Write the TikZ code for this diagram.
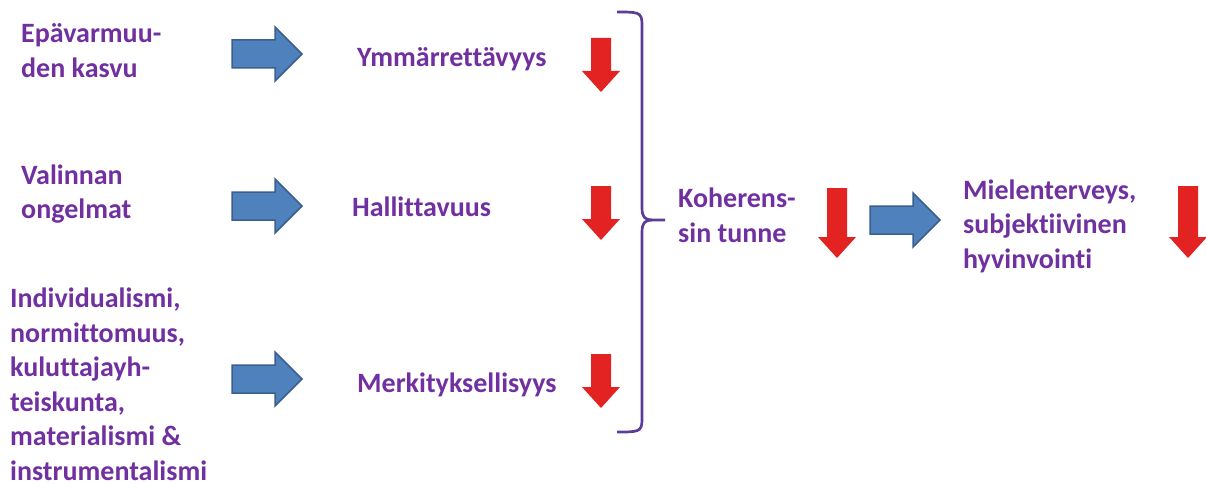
\documentclass[tikz,border=0pt]{standalone}
\usepackage{fontspec}
\setmainfont{Carlito}[Ligatures=NoCommon]
\definecolor{txtpurple}{HTML}{7030A0}
\definecolor{bracecol}{HTML}{5B3C98}
\definecolor{arrblue}{HTML}{4F81BD}
\definecolor{arrblueline}{HTML}{3A5F8E}
\definecolor{arrred}{HTML}{E32222}
\tikzset{
  txt/.style={font=\fontsize{28}{34.5}\selectfont\bfseries, text=txtpurple, align=left, inner sep=0pt, anchor=base west},
  bluearr/.style={fill=arrblue, draw=arrblueline, line width=1.5pt, line join=miter},
  redarr/.style={fill=arrred, draw=none},
  bracestyle/.style={draw=bracecol, line width=2.7pt},
  pics/bluearrow/.style={code={
    \path[bluearr] (0,-14) -- (43,-14) -- (43,-27) -- (70,0) -- (43,27) -- (43,14) -- (0,14) -- cycle;}},
  pics/redarrow/.style={code={
    \path[redarr] (-10,0) -- (10,0) -- (10,#1-21) -- (19,#1-21) -- (0,#1) -- (-19,#1-21) -- (-10,#1-21) -- cycle;}},
}
\begin{document}
\begin{tikzpicture}[x=1pt,y=-1pt]
\useasboundingbox (0,0) rectangle (1206,484);
% texts (multi-line nodes: base = baseline of last line)
\node[txt] (eps) at (21,77.5) {Epävarmuu-\\den kasvu};
\node[txt] (ymm) at (357,67) {Ymmärrettävyys};
\node[txt] (val) at (21,218.5) {Valinnan\\ongelmat};
\node[txt] (hal) at (352,216) {Hallittavuus};
\node[txt] (ind) at (10,480) {Individualismi,\\normittomuus,\\kuluttajayh-\\teiskunta,\\materialismi \&\\instrumentalismi};
\node[txt] (mer) at (357,392) {Merkityksellisyys};
\node[txt] (koh) at (678,242) {Koherens-\\sin tunne};
\node[txt] (mie) at (963,268) {Mielenterveys,\\subjektiivinen\\hyvinvointi};
% blue arrows
\pic (b1) at (232,54) {bluearrow};
\pic (b2) at (232,206) {bluearrow};
\pic (b3) at (232,379) {bluearrow};
\pic (b4) at (870,220) {bluearrow};
% red arrows
\pic (r1) at (601,38) {redarrow=54};
\pic (r2) at (601,186) {redarrow=54};
\pic (r3) at (601,354) {redarrow=54};
\pic (r4) at (837,188) {redarrow=70};
\pic (r5) at (1188,186) {redarrow=72};
% brace
\coordinate (bt) at (617,12);
\coordinate (bm) at (665,220);
\coordinate (bb) at (617,432);
\draw[bracestyle] (bt) .. controls (638,12) and (642,12) .. (642,24) -- (642,208)
   .. controls (642,217) and (645,220) .. (652,220) -- (bm);
\draw[bracestyle] (652,220) .. controls (645,220) and (642,223) .. (642,232) -- (642,420)
   .. controls (642,432) and (638,432) .. (bb);
\end{tikzpicture}
\end{document}
